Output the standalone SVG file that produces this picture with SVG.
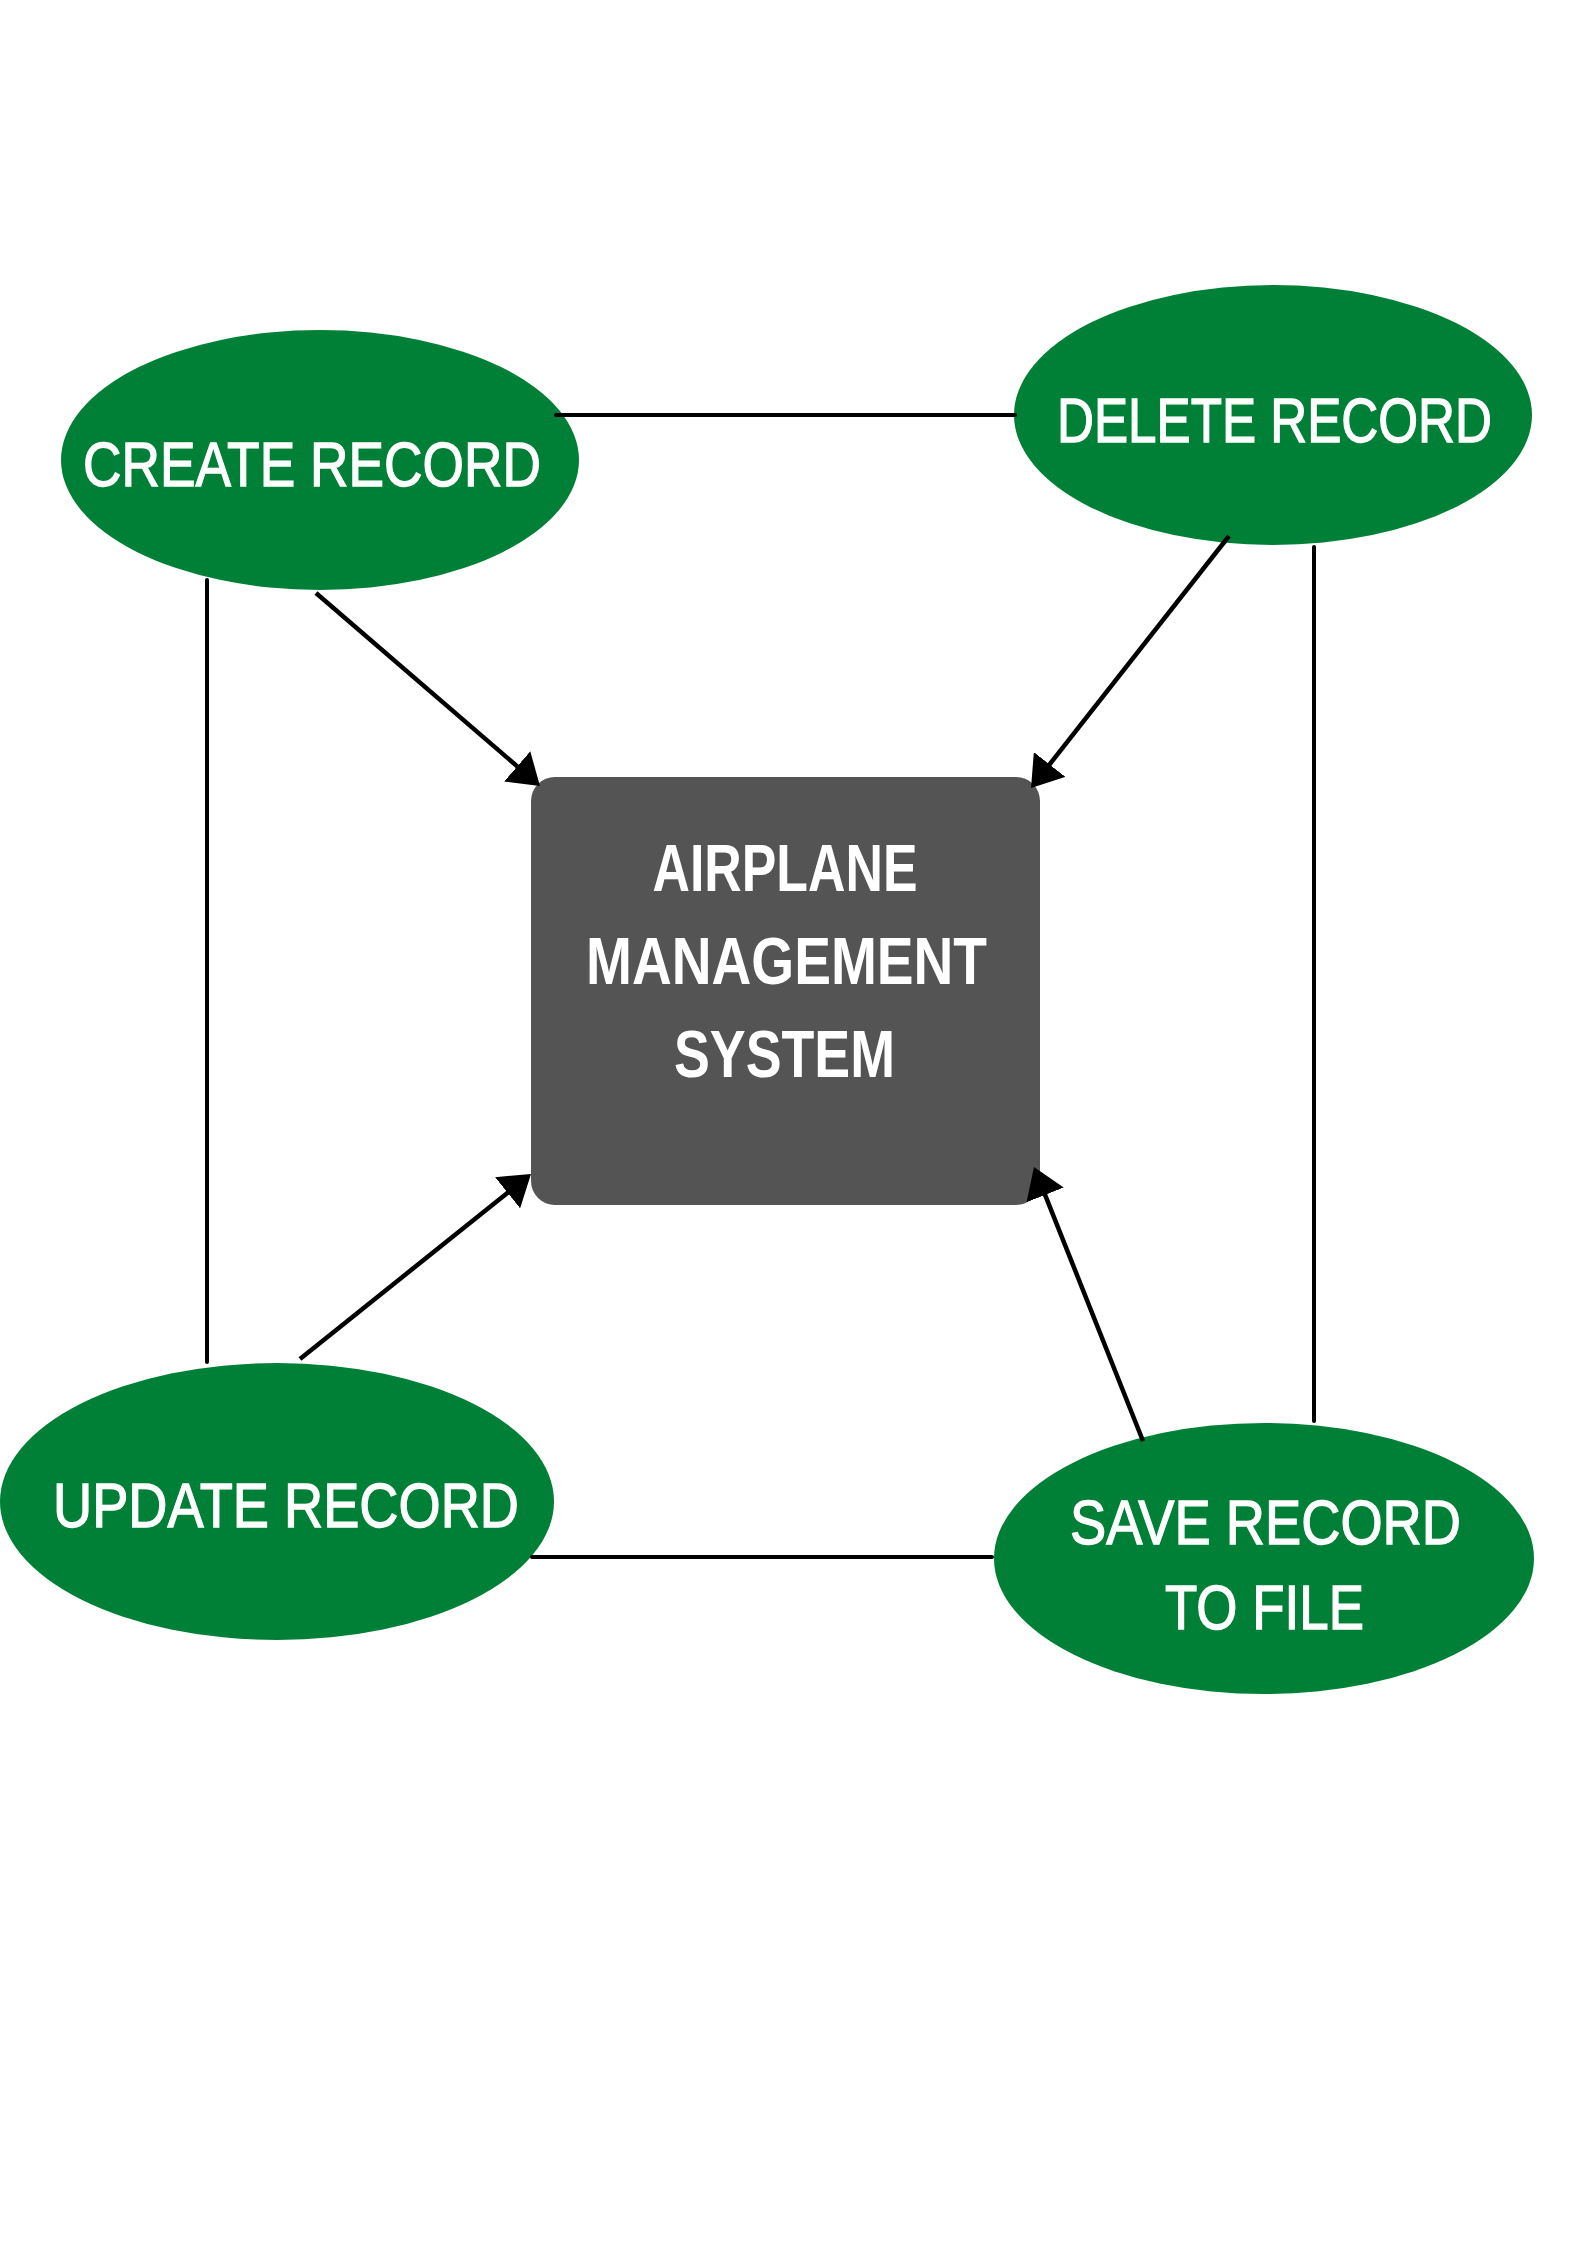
<svg xmlns="http://www.w3.org/2000/svg" width="1587" height="2245" viewBox="0 0 1587 2245">
<style>
.node-e{fill:#008037}
.node-r{fill:#545454}
.lbl{font-family:"Liberation Sans",Arial,sans-serif;fill:#ffffff;text-anchor:middle}
.el{font-size:63px;stroke:#ffffff;stroke-width:1.3}
.ct{font-size:66px;font-weight:bold}
.link{stroke:#000;stroke-width:4;fill:none;stroke-linecap:round}
.arrow{stroke:#000;stroke-width:4.5;fill:none;marker-end:url(#ah)}
</style>
<defs>
<marker id="ah" markerUnits="userSpaceOnUse" viewBox="0 0 30 40" markerWidth="30" markerHeight="40" refX="10" refY="20" orient="auto">
<path d="M0,0 L30,20 L0,40 Z" fill="#000"/>
</marker>
</defs>
<rect width="1587" height="2245" fill="#ffffff"/>
<g id="create-record">
<ellipse class="node-e" cx="320" cy="460" rx="259" ry="130"/>
<text class="lbl el" x="312" y="486" textLength="458" lengthAdjust="spacingAndGlyphs">CREATE RECORD</text>
</g>
<g id="delete-record">
<ellipse class="node-e" cx="1273" cy="415" rx="259" ry="130"/>
<text class="lbl el" x="1274.5" y="442" textLength="435" lengthAdjust="spacingAndGlyphs">DELETE RECORD</text>
</g>
<g id="update-record">
<ellipse class="node-e" cx="277" cy="1501.5" rx="277" ry="138.5"/>
<text class="lbl el" x="286" y="1527" textLength="466" lengthAdjust="spacingAndGlyphs">UPDATE RECORD</text>
</g>
<g id="save-record">
<ellipse class="node-e" cx="1264" cy="1558.5" rx="270" ry="135.5"/>
<text class="lbl el" x="1265.5" y="1544" textLength="391" lengthAdjust="spacingAndGlyphs">SAVE RECORD</text>
<text class="lbl el" x="1264.5" y="1629" textLength="199" lengthAdjust="spacingAndGlyphs">TO FILE</text>
</g>
<g id="airplane-management-system">
<rect class="node-r" x="531" y="777" width="509" height="428" rx="24" ry="24"/>
<text class="lbl ct" x="785" y="891" textLength="265" lengthAdjust="spacingAndGlyphs">AIRPLANE</text>
<text class="lbl ct" x="786.5" y="983.5" textLength="401" lengthAdjust="spacingAndGlyphs">MANAGEMENT</text>
<text class="lbl ct" x="784.5" y="1077" textLength="221" lengthAdjust="spacingAndGlyphs">SYSTEM</text>
</g>
<g id="connectors">
<line class="link" x1="556" y1="415" x2="1015" y2="415"/>
<line class="link" x1="207" y1="580" x2="207" y2="1362"/>
<line class="link" x1="532" y1="1557" x2="992" y2="1557"/>
<line class="link" x1="1314" y1="547" x2="1314" y2="1421"/>
<line class="arrow" x1="316" y1="593" x2="524.8" y2="772.9"/>
<line class="arrow" x1="1229" y1="536" x2="1043.4" y2="772.3"/>
<line class="arrow" x1="300" y1="1359" x2="515.4" y2="1186.5"/>
<line class="arrow" x1="1143" y1="1441" x2="1041.4" y2="1185.6"/>
</g>
</svg>
